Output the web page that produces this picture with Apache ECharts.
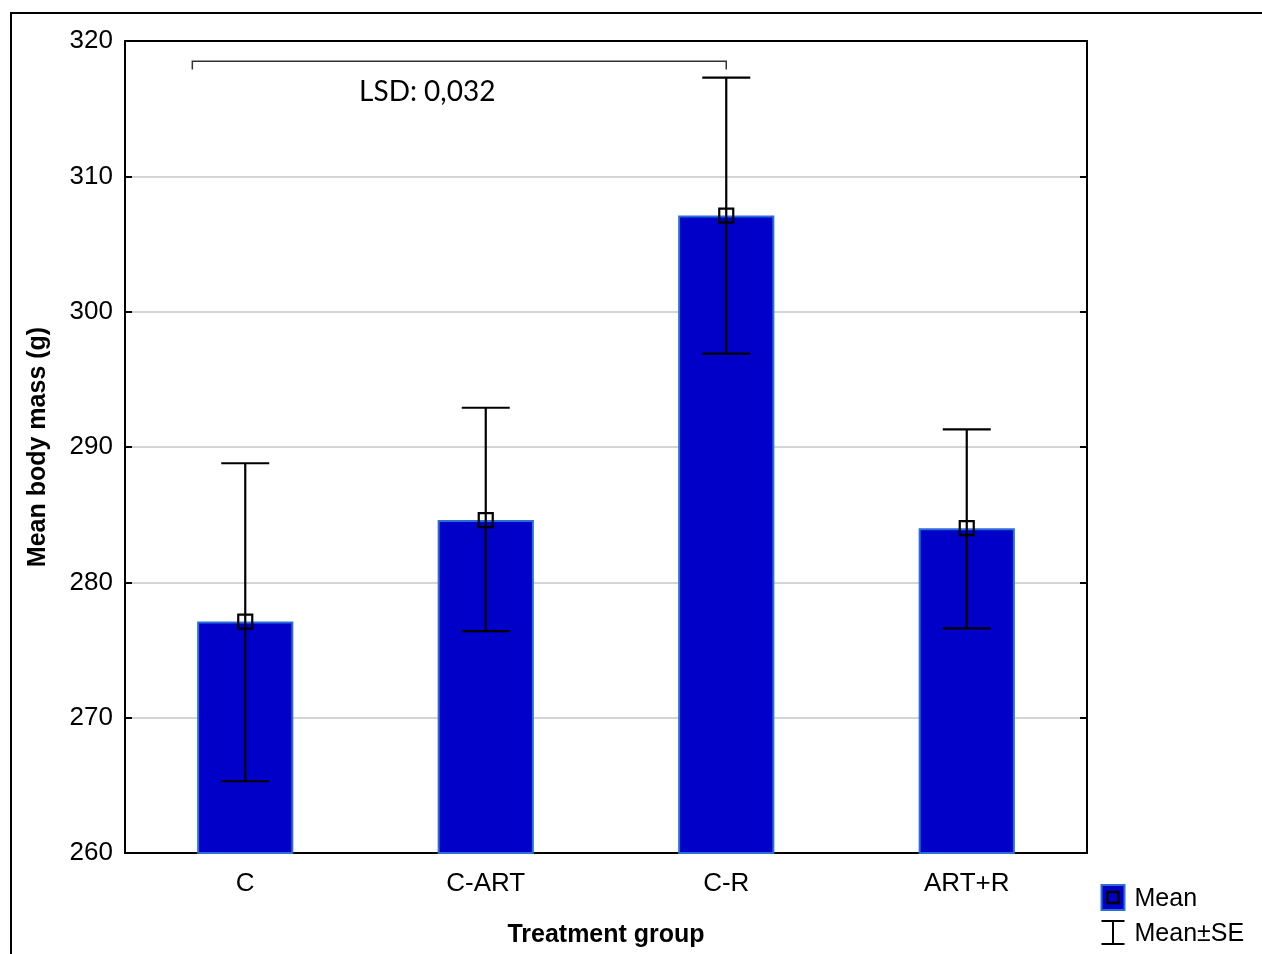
<!DOCTYPE html>
<html>
<head>
<meta charset="utf-8">
<script src="https://cdn.jsdelivr.net/npm/echarts@6/dist/echarts.min.js"></script>
<style>
  html, body { margin: 0; padding: 0; background: #fff; }
  #main { width: 1262px; height: 954px; }
</style>
</head>
<body>
<div id="main"></div>
<script>
// treatment groups and body mass (g)
var groups = ['C', 'C-ART', 'C-R', 'ART+R'];
var means = [277.1, 284.6, 307.1, 284.0];
var seLow = [265.3, 276.4, 296.9, 276.6];
var seHigh = [288.8, 292.9, 317.3, 291.3];
var yTicks = [260, 270, 280, 290, 300, 310, 320];
// LSD bracket: from group, to group, level, hook end
var lsdBracket = [[0, 2, 318.5, 317.9]];
var lsdText = 'LSD: 0,032';

var FONT = '"Liberation Sans", Arial, sans-serif';

var errData = groups.map(function (g, i) {
    return [i, seLow[i], seHigh[i], means[i]];
});

var chart = echarts.init(document.getElementById('main'));

var option = {
    backgroundColor: '#fff',
    animation: false,
    grid: { left: 125, right: 175, top: 41, bottom: 101 },
    xAxis: [
        {
            type: 'category',
            data: groups,
            position: 'bottom',
            name: 'Treatment group',
            nameLocation: 'middle',
            nameGap: 70,
            nameTextStyle: { fontFamily: FONT, fontSize: 25, fontWeight: 'bold', color: '#000' },
            axisLine: { lineStyle: { color: '#000', width: 2 } },
            axisTick: { inside: true, alignWithLabel: true, length: 7, lineStyle: { color: '#000', width: 2 } },
            axisLabel: { fontFamily: FONT, fontSize: 26, color: '#000', margin: 18 },
            splitLine: { show: false }
        },
        {
            type: 'category',
            data: groups,
            position: 'top',
            axisLine: { lineStyle: { color: '#000', width: 2 } },
            axisTick: { inside: true, alignWithLabel: true, length: 7, lineStyle: { color: '#000', width: 2 } },
            axisLabel: { show: false },
            splitLine: { show: false }
        }
    ],
    yAxis: [
        {
            type: 'value',
            min: yTicks[0],
            max: yTicks[yTicks.length - 1],
            interval: 10,
            name: 'Mean body mass (g)',
            nameLocation: 'middle',
            nameGap: 74,
            nameTextStyle: { fontFamily: FONT, fontSize: 25, fontWeight: 'bold', color: '#000' },
            axisLine: { show: true, lineStyle: { color: '#000', width: 2 } },
            axisTick: { show: true, inside: true, length: 7, lineStyle: { color: '#000', width: 2 } },
            axisLabel: { fontFamily: FONT, fontSize: 26, color: '#000', margin: 12 },
            splitLine: { show: true, lineStyle: { color: '#d4d4d4', width: 2 } }
        },
        {
            type: 'value',
            position: 'right',
            min: yTicks[0],
            max: yTicks[yTicks.length - 1],
            interval: 10,
            axisLine: { show: true, lineStyle: { color: '#000', width: 2 } },
            axisTick: { show: true, inside: true, length: 7, lineStyle: { color: '#000', width: 2 } },
            axisLabel: { show: false },
            splitLine: { show: false }
        }
    ],
    series: [
        {
            name: 'Mean',
            type: 'bar',
            data: means,
            barWidth: '40%',
            itemStyle: { color: '#0000c8', borderColor: '#2a6fd6', borderWidth: 2 }
        },
        {
            name: 'Mean±SE',
            type: 'custom',
            data: errData,
            z: 10,
            renderItem: function (params, api) {
                var x = api.value(0);
                var lo = api.coord([x, api.value(1)]);
                var hi = api.coord([x, api.value(2)]);
                var m = api.coord([x, api.value(3)]);
                var half = 24, s = 7;
                var st = { stroke: '#000', lineWidth: 2.2, fill: null };
                return {
                    type: 'group',
                    children: [
                        { type: 'line', shape: { x1: hi[0], y1: hi[1], x2: lo[0], y2: lo[1] }, style: st },
                        { type: 'line', shape: { x1: hi[0] - half, y1: hi[1], x2: hi[0] + half, y2: hi[1] }, style: st },
                        { type: 'line', shape: { x1: lo[0] - half, y1: lo[1], x2: lo[0] + half, y2: lo[1] }, style: st },
                        { type: 'rect', shape: { x: m[0] - s, y: m[1] - s, width: 2 * s, height: 2 * s }, style: st }
                    ]
                };
            }
        },
        {
            name: 'LSD',
            type: 'custom',
            data: lsdBracket,
            z: 10,
            renderItem: function (params, api) {
                var a = api.coord([api.value(0), api.value(2)]);
                var b = api.coord([api.value(1), api.value(2)]);
                var h = api.coord([api.value(1), api.value(3)]);
                var x1 = a[0] - api.size([1, 0])[0] * 0.22;
                var x2 = b[0];
                var st = { stroke: '#333', lineWidth: 1.5, fill: null };
                return {
                    type: 'group',
                    children: [
                        { type: 'polyline', shape: { points: [[x1, h[1]], [x1, a[1]], [x2, a[1]], [x2, h[1]]] }, style: st },
                        {
                            type: 'text',
                            style: {
                                text: lsdText, x: x1 + (x2 - x1) * 0.44, y: a[1] + 31,
                                textAlign: 'center', textVerticalAlign: 'middle',
                                font: '28px Lato, "Open Sans", sans-serif', fill: '#000'
                            }
                        }
                    ]
                };
            }
        }
    ],
    graphic: [
        {
            type: 'rect', silent: true,
            shape: { x: 11, y: 13, width: 1300, height: 1000 },
            style: { stroke: '#000', lineWidth: 2, fill: null }
        },
        {
            type: 'group', left: 1099, top: 884,
            children: [
                { type: 'rect', shape: { x: 0, y: 0, width: 23, height: 25 }, style: { fill: '#0000c8', stroke: '#2a6fd6', lineWidth: 2 } },
                { type: 'rect', shape: { x: 6, y: 7, width: 11, height: 11 }, style: { fill: null, stroke: '#000', lineWidth: 2.5 } },
                { type: 'text', style: { text: 'Mean', x: 33, y: 14, textVerticalAlign: 'middle', font: '25px "Liberation Sans", Arial, sans-serif', fill: '#000' } },
                { type: 'line', shape: { x1: 0, y1: 36, x2: 23, y2: 36 }, style: { stroke: '#000', lineWidth: 2 } },
                { type: 'line', shape: { x1: 11.5, y1: 36, x2: 11.5, y2: 59 }, style: { stroke: '#000', lineWidth: 2 } },
                { type: 'line', shape: { x1: 0, y1: 59, x2: 23, y2: 59 }, style: { stroke: '#000', lineWidth: 2 } },
                { type: 'text', style: { text: 'Mean±SE', x: 33, y: 49, textVerticalAlign: 'middle', font: '25px "Liberation Sans", Arial, sans-serif', fill: '#000' } }
            ]
        }
    ]
};

chart.setOption(option);
</script>
</body>
</html>
